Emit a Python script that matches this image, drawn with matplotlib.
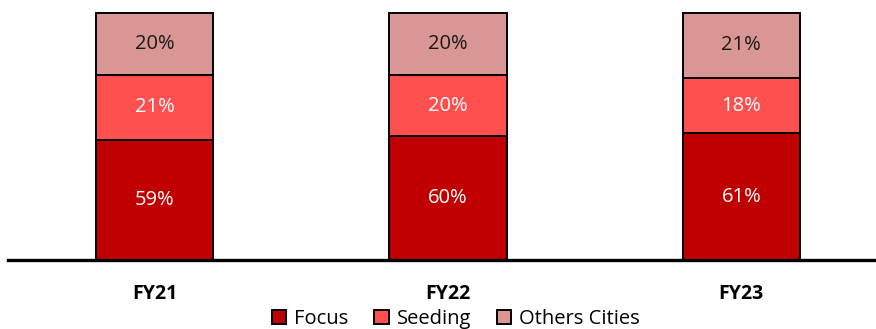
import numpy as np
import matplotlib
matplotlib.use("Agg")
from matplotlib import pyplot as plt
from matplotlib.patches import Patch

years = ['FY21', 'FY22', 'FY23']
focus = [59, 60, 61]
seeding = [21, 20, 18]
others = [20, 20, 21]

series = ['Focus', 'Seeding', 'Others Cities']
colors = ['#C00000', '#FF5050', '#D99694']
text_colors = ['white', 'white', '#1a1a1a']

plt.rcParams['font.family'] = ['Open Sans', 'DejaVu Sans']

fig = plt.figure(figsize=(8.76, 3.29), dpi=100)
ax = fig.add_axes([8 / 876, 69 / 329, 868 / 876, 247 / 329])

x = np.arange(len(years))
ymin = 20
bottom = np.zeros(len(years))
for vals, col, tc, name in zip([focus, seeding, others], colors, text_colors, series):
    vals = np.array(vals, dtype=float)
    bars = ax.bar(x, vals, 0.4, bottom=bottom, color=col, edgecolor='black',
                  linewidth=1.4, label=name, zorder=2)
    for b in bars:
        b.set_clip_on(False) if b.get_y() >= ymin else None
    for xi, b, v in zip(x, bottom, vals):
        lo = max(b, ymin)
        ax.text(xi, (lo + b + v) / 2, f'{int(v)}%', ha='center', va='center',
                color=tc, fontsize=14.5, zorder=3)
    bottom += vals

ax.set_ylim(ymin, 100)
ax.set_xlim(-0.5, 2.459)
ax.set_yticks([])
ax.set_xticks(x)
ax.set_xticklabels(years, fontweight='bold', fontsize=14)
ax.tick_params(axis='x', length=0, pad=17)
for s in ['top', 'left', 'right']:
    ax.spines[s].set_visible(False)
ax.spines['bottom'].set_linewidth(2.4)
ax.spines['bottom'].set_zorder(4)

handles = [Patch(facecolor=c, edgecolor='black', linewidth=1.4) for c in colors]
fig.legend(handles, series, loc='center', bbox_to_anchor=(456 / 876, 10 / 329),
           ncol=3, frameon=False, fontsize=14.5, handlelength=0.7, handleheight=0.7,
           handletextpad=0.4, columnspacing=1.3, borderpad=0)

fig.savefig('out.png', dpi=100)
